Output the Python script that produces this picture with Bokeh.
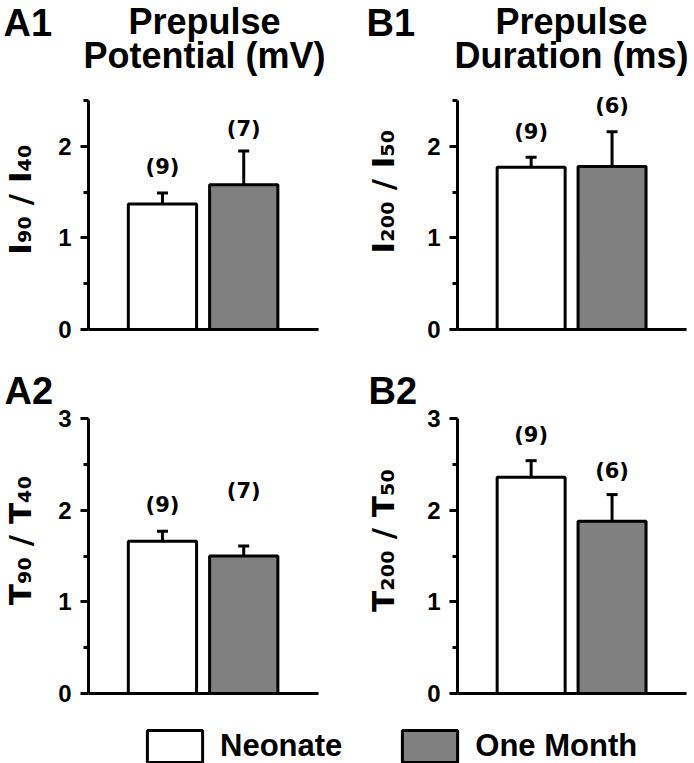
import math
from bokeh.plotting import figure
from bokeh.models import (Range1d, FixedTicker, Label, LabelSet, Legend, LegendItem,
                          ColumnDataSource, Whisker, TeeHead, LinearAxis)
from bokeh.core.properties import value
from bokeh.embed import file_html
from bokeh.resources import INLINE

# ---------------- data ----------------
groups = ["Neonate", "One Month"]
group_x = [1, 2]
group_fill = ["white", "#808080"]

a1_mean = [1.37, 1.58]
a1_sem = [0.12, 0.37]
a1_n = ["(9)", "(7)"]

b1_mean = [1.77, 1.78]
b1_sem = [0.11, 0.38]
b1_n = ["(9)", "(6)"]

a2_mean = [1.66, 1.50]
a2_sem = [0.11, 0.11]
a2_n = ["(9)", "(7)"]

b2_mean = [2.36, 1.88]
b2_sem = [0.18, 0.29]
b2_n = ["(9)", "(6)"]

ticks_top = [0, 1, 2]
minor_top = [0.5, 1.5, 2.5]
ticks_bottom = [0, 1, 2, 3]
minor_bottom = [0.5, 1.5, 2.5]

# ---------------- styling / layout ----------------
FONT = "Liberation Sans"
WFONT = "DejaVu Sans"
X0, X1 = 0.09, 2.92
W, H = 694, 763

p = figure(width=W, height=H, min_border=0,
           x_range=Range1d(0, W), y_range=Range1d(H, 0),
           x_axis_location=None, y_axis_location=None,
           toolbar_location=None, output_backend="svg")
p.outline_line_color = None
p.background_fill_color = "white"
p.border_fill_color = "white"
for g in list(p.xgrid) + list(p.ygrid):
    g.visible = False
p.grid.grid_line_color = None


def put(txt, x, y, font=FONT, size="36px", align="left", baseline="middle", angle=0.0):
    p.add_layout(Label(x=x, y=y, text=txt, text_font=font, text_font_style="bold",
                       text_font_size=size, text_align=align, text_baseline=baseline,
                       angle=angle, angle_units="rad", text_color="black"))


def panel(key, box, ymax, yticks, yminor, means, sems, ns, lifts):
    L, R, T, B = box
    xr, yr = "x" + key, "y" + key
    sx = (X1 - X0) / (R - L)
    p.extra_x_ranges[xr] = Range1d(X0 - L * sx, X0 + (W - L) * sx)
    sy = ymax / (B - T)
    p.extra_y_ranges[yr] = Range1d((B - H) * sy, B * sy)

    src = ColumnDataSource(dict(x=group_x, top=means,
                                upper=[m + s for m, s in zip(means, sems)],
                                fill=group_fill, n=ns, lift=lifts))
    r = p.vbar(x="x", top="top", bottom=0, width=0.84, fill_color="fill",
               line_color="black", line_width=3, source=src,
               x_range_name=xr, y_range_name=yr)
    p.add_layout(Whisker(source=src, base="x", lower="top", upper="upper",
                         dimension="height", line_color="black", line_width=3,
                         lower_head=None, x_range_name=xr, y_range_name=yr,
                         upper_head=TeeHead(size=11, line_width=3, line_color="black")))
    p.add_layout(LabelSet(source=src, x="x", y="upper", text="n", y_offset="lift",
                          x_range_name=xr, y_range_name=yr,
                          text_align="center", text_baseline="bottom",
                          text_font=value(WFONT), text_font_style="bold",
                          text_font_size="21px", text_color="black"))

    yax = LinearAxis(x_range_name=xr, y_range_name=yr, fixed_location=X0,
                     bounds=(0, ymax),
                     ticker=FixedTicker(ticks=yticks, minor_ticks=yminor),
                     axis_line_width=3, major_tick_line_width=3, minor_tick_line_width=3,
                     major_tick_in=0, major_tick_out=8, minor_tick_in=0, minor_tick_out=5,
                     major_label_standoff=9, major_label_text_font=FONT,
                     major_label_text_font_style="bold", major_label_text_font_size="24px",
                     major_label_text_color="black")
    p.add_layout(yax, "left")
    xax = LinearAxis(x_range_name=xr, y_range_name=yr, fixed_location=0,
                     bounds=(X0, X1), ticker=FixedTicker(ticks=[]),
                     axis_line_width=3, major_tick_in=0, major_tick_out=0,
                     minor_tick_in=0, minor_tick_out=0, major_label_standoff=0,
                     major_label_text_font_size="0px")
    p.add_layout(xax, "below")
    return r


panel("A1", (88, 318, 100, 329), 2.5, ticks_top, minor_top, a1_mean, a1_sem, a1_n, [14, 10])
panel("B1", (457, 686, 100, 329), 2.5, ticks_top, minor_top, b1_mean, b1_sem, b1_n, [13, 14])
panel("A2", (88, 318, 418, 693), 3, ticks_bottom, minor_bottom, a2_mean, a2_sem, a2_n, [14, 43])
rB2 = panel("B2", (457, 686, 418, 693), 3, ticks_bottom, minor_bottom, b2_mean, b2_sem, b2_n, [14, 12])

# ---------------- texts ----------------
put("A1", 3, 22, size="38px")
put("Prepulse", 204, 21, align="center")
put("Potential (mV)", 204, 55, align="center")
put("B1", 366, 22, size="38px")
put("Prepulse", 571, 21, align="center")
put("Duration (ms)", 571, 55, align="center")
put("A2", 4, 390, size="38px")
put("B2", 368, 390, size="38px")

rot = math.pi / 2
put("I₉₀ / I₄₀", 19, 199, font=WFONT, size="31px", align="center", angle=rot)
put("I₂₀₀ / I₅₀", 382, 191, font=WFONT, size="31px", align="center", angle=rot)
put("T₉₀ / T₄₀", 19, 540, font=WFONT, size="31px", align="center", angle=rot)
put("T₂₀₀ / T₅₀", 382, 540, font=WFONT, size="31px", align="center", angle=rot)

# ---------------- legend ----------------
items = [LegendItem(label=value(g), renderers=[rB2], index=i) for i, g in enumerate(groups)]
leg = Legend(items=items, location=(140, -3), orientation="horizontal",
             glyph_width=69, glyph_height=40, label_standoff=11, spacing=53,
             padding=0, margin=0, border_line_color=None, background_fill_alpha=0,
             label_text_font=FONT, label_text_font_style="bold",
             label_text_font_size="31px", label_text_color="black")
p.add_layout(leg)

open("out.html", "w").write(file_html(p, INLINE))
